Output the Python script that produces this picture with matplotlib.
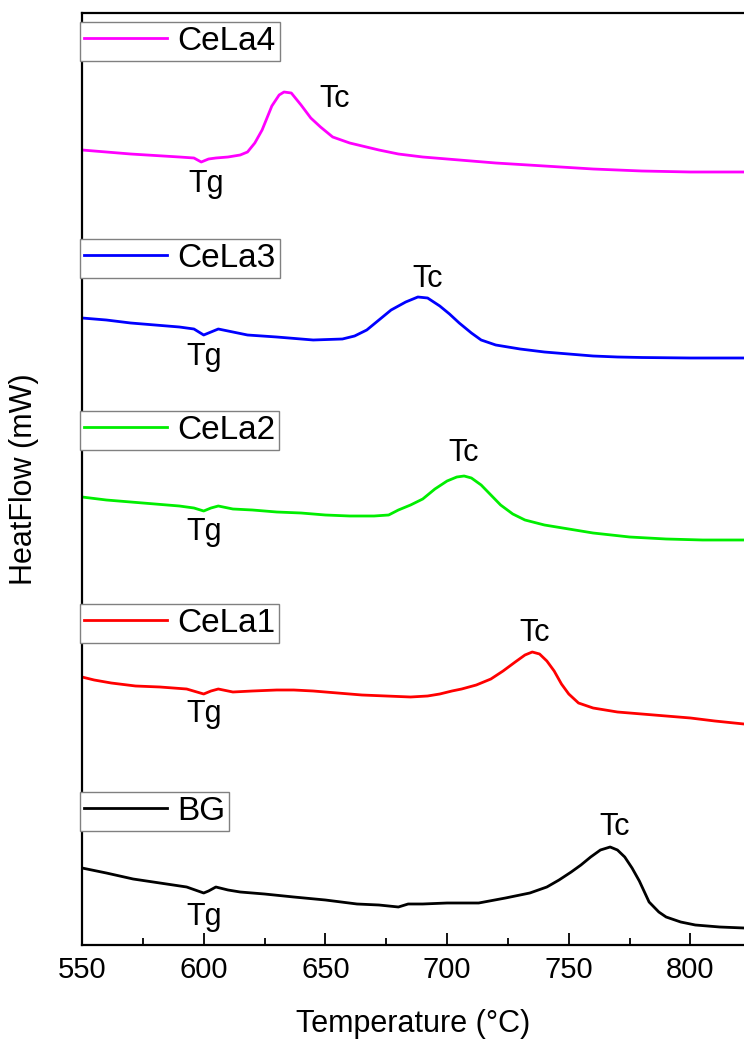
import matplotlib
matplotlib.use('Agg')
import matplotlib.pyplot as plt
from matplotlib.ticker import MultipleLocator, NullLocator

plt.rcParams['font.family'] = ['Liberation Sans', 'DejaVu Sans']

# DSC curves (temperature in °C, signal in arbitrary units, larger = lower)
t_cela4 = [550, 560, 570, 580, 590, 596, 599, 602, 605, 610, 615, 618, 621, 624, 628, 631, 633, 636,
           640, 644, 648, 653, 660, 672, 680, 690, 700, 710, 720, 730, 740, 750, 760, 770, 780, 790, 800, 822]
s_cela4 = [150, 152, 154, 155.5, 157, 158, 162, 159, 158, 157, 155, 152, 143, 130, 106, 95, 92, 93,
           105, 118, 127, 137, 143, 150, 154, 157, 159, 161, 163, 164.5, 166, 167.5, 169, 170, 171, 171.5, 172, 172]

t_cela3 = [550, 560, 570, 580, 590, 596, 600, 603, 606, 610, 618, 630, 645, 657, 662, 667, 672, 677, 683,
           688, 692, 697, 701, 705, 710, 714, 720, 730, 740, 750, 760, 770, 780, 800, 822]
s_cela3 = [318, 320, 323, 325, 327, 329, 335, 332, 329, 331, 335, 337, 340, 339, 336, 330, 320, 310, 302,
           297, 298, 306, 314, 323, 333, 340, 345, 349, 352, 354, 356, 357, 357.5, 358, 358]

t_cela2 = [550, 560, 570, 580, 590, 596, 600, 603, 606, 612, 620, 630, 640, 650, 660, 670, 676, 680, 685,
           690, 695, 700, 704, 707, 710, 714, 718, 722, 727, 732, 740, 750, 760, 775, 790, 805, 822]
s_cela2 = [497, 500, 502, 504, 506, 508, 511, 508, 506, 509, 510, 512, 513, 515, 516, 516, 515, 510, 505,
           499, 489, 481, 477, 476, 478, 485, 495, 505, 514, 520, 525, 529, 533, 537, 539, 540, 540]

t_cela1 = [550, 555, 562, 572, 582, 593, 600, 603, 606, 612, 620, 630, 637, 645, 655, 665, 675, 685, 692,
           697, 702, 706, 712, 718, 723, 728, 732, 735, 738, 741, 744, 747, 750, 754, 760, 770, 780, 790,
           800, 810, 822]
s_cela1 = [677, 680, 683, 686, 687, 689, 694, 691, 689, 692, 691, 690, 690, 691, 693, 695, 696, 697, 696,
           694, 691, 689, 685, 679, 671, 662, 655, 652, 654, 661, 671, 684, 694, 703, 708, 712, 714, 716,
           718, 721, 724]

t_bg = [550, 560, 571, 582, 593, 600, 602, 605, 610, 615, 625, 637, 650, 663, 672, 680, 684, 690, 700,
        713, 724, 734, 741, 746, 751, 755, 759, 763, 767, 770, 773, 776, 779, 783, 787, 790, 796, 802,
        812, 822]
s_bg = [868, 873, 879, 883, 887, 893, 891, 887, 890, 892, 894, 897, 900, 904, 905, 907, 904, 904, 903,
        903, 898, 893, 887, 880, 872, 865, 857, 850, 847, 850, 857, 868, 881, 902, 912, 917, 922, 925,
        927, 928]

names = ['CeLa4', 'CeLa3', 'CeLa2', 'CeLa1', 'BG']
colors = ['#ff00ff', '#0000ff', '#00ee00', '#ff0000', '#000000']
temps = [t_cela4, t_cela3, t_cela2, t_cela1, t_bg]
signals = [s_cela4, s_cela3, s_cela2, s_cela1, s_bg]

# label anchors (temperature, signal at text baseline)
tc_pos = [(654, 107), (692, 287), (707, 461), (736, 641), (769, 835)]
tg_pos = [(601, 192), (600, 365), (600, 540), (600, 722), (600, 925)]
legend_tops = [22, 239, 411, 604, 792]

fig = plt.figure(figsize=(7.44, 10.4), dpi=100)
ax = fig.add_axes([82 / 744, 1 - 945 / 1040, 1 - 82 / 744, (945 - 13) / 1040])

lines = []
for t, s, c, n in zip(temps, signals, colors, names):
    ln, = ax.plot(t, s, color=c, lw=2, label=n)
    lines.append(ln)

for (tx, ty) in tc_pos:
    ax.text(tx, ty, 'Tc', fontsize=22, ha='center', va='baseline')
for (tx, ty) in tg_pos:
    ax.text(tx, ty, 'Tg', fontsize=22, ha='center', va='baseline')

ax.set_xlim(550, 822)
ax.set_ylim(945, 13)

ax.xaxis.set_major_locator(MultipleLocator(50))
ax.xaxis.set_minor_locator(MultipleLocator(25))
ax.yaxis.set_major_locator(NullLocator())
ax.yaxis.set_minor_locator(NullLocator())
ax.tick_params(axis='x', which='major', direction='in', length=8.5, width=1.3, labelsize=21, pad=8)
ax.tick_params(axis='x', which='minor', direction='in', length=5, width=1.3)
ax.spines['right'].set_visible(False)
for sp in ['left', 'bottom', 'top']:
    ax.spines[sp].set_linewidth(1.6)

ax.set_xlabel('Temperature (°C)', fontsize=22, labelpad=18)
ax.set_ylabel('HeatFlow (mW)', fontsize=22, labelpad=31)

for i, (ln, top) in enumerate(zip(lines, legend_tops)):
    leg = ax.legend(handles=[ln], loc='upper left', bbox_to_anchor=(80 / 744, 1 - top / 1040),
                    bbox_transform=fig.transFigure, fontsize=24, frameon=True, fancybox=False,
                    framealpha=1, edgecolor='#808080', borderpad=0.12, borderaxespad=0,
                    handlelength=2.5, handletextpad=0.3)
    leg.get_frame().set_linewidth(1.0)
    if i < len(lines) - 1:
        ax.add_artist(leg)

fig.savefig('out.png', dpi=100)
